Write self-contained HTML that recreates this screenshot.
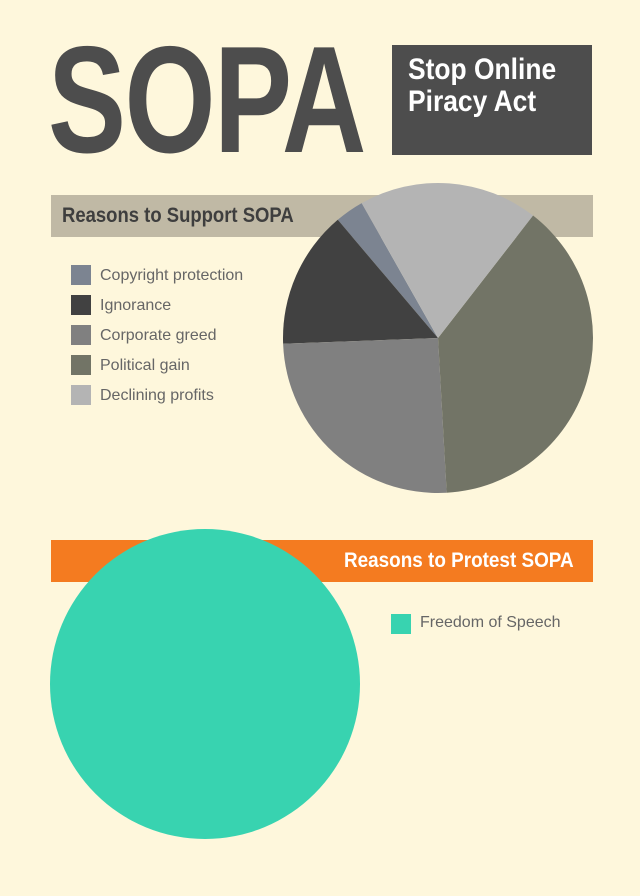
<!DOCTYPE html>
<html><head><meta charset="utf-8"><style>
body{margin:0;background:#fef7dc;}
#root{position:relative;width:640px;height:896px;overflow:hidden;background:#fef7dc;font-family:"Liberation Sans",sans-serif;}
.abs{position:absolute;}
.leg{position:absolute;font-size:16px;color:#666;}
.sw{position:absolute;width:20px;height:20px;}
</style></head><body>
<div id="root">
<div class="abs" style="left:48px;top:20px;font-size:152px;font-weight:bold;color:#4d4d4d;line-height:160px;transform:scaleX(0.77);transform-origin:left top;letter-spacing:-2px;">SOPA</div>
<div class="abs" style="left:392px;top:45px;width:200px;height:110px;background:#4d4d4d;"></div>
<div class="abs" style="left:408px;top:54px;font-size:30px;font-weight:bold;color:#fff;line-height:32px;transform:scaleX(0.88);transform-origin:left top;white-space:nowrap;">Stop Online<br>Piracy Act</div>
<div class="abs" style="left:51px;top:195px;width:542px;height:42px;background:#c0b9a5;"></div>
<div class="abs" style="left:62px;top:204px;font-size:21px;font-weight:bold;color:#3e3e3e;transform:scaleX(0.88);transform-origin:left top;white-space:nowrap;">Reasons to Support SOPA</div>
<div class="abs" style="left:51px;top:540px;width:542px;height:42px;background:#f47b20;"></div>
<svg class="abs" style="left:0;top:0" width="640" height="896">
<g id="pie1"></g>
<circle id="pie2" cx="205" cy="684" r="155" fill="#38d3b0"></circle>
</svg>
<div class="abs" style="left:344px;top:549px;font-size:21px;font-weight:bold;color:#fff;transform:scaleX(0.9);transform-origin:left top;white-space:nowrap;">Reasons to Protest SOPA</div>
<div id="legend1"></div>
<div class="sw" style="left:391px;top:614px;background:#38d3b0;"></div>
<div class="leg" style="left:420px;top:614px;">Freedom of Speech</div>
</div>
<script>
const categories=["Copyright protection","Ignorance","Corporate greed","Political gain","Declining profits"];
const values=[3,14.4,25.3,38.6,18.7];
const colors=["#7c8491","#414141","#808080","#727466","#b4b4b4"];
const cx=438,cy=338,r=155,startDeg=330.5;
const total=values.reduce((a,b)=>a+b,0);
const g=document.getElementById('pie1');
let a=startDeg;
function pt(d){const t=d*Math.PI/180;return [cx+r*Math.sin(t),cy-r*Math.cos(t)];}
values.forEach((v,i)=>{
  const sweep=v/total*360;const a2=a-sweep;
  const p1=pt(a),p2=pt(a2);
  const p=document.createElementNS('http://www.w3.org/2000/svg','path');
  p.setAttribute('d',`M${cx},${cy}L${p1[0]},${p1[1]}A${r},${r} 0 ${sweep>180?1:0} 0 ${p2[0]},${p2[1]}Z`);
  p.setAttribute('fill',colors[i]);
  
  
  g.appendChild(p);a=a2;
});
const L=document.getElementById('legend1');
categories.forEach((c,i)=>{
  const s=document.createElement('div');s.className='sw';
  s.style.left='71px';s.style.top=(265+i*30)+'px';s.style.background=colors[i];
  
  
  L.appendChild(s);
  const t=document.createElement('div');t.className='leg';
  t.style.left='100px';t.style.top=(267+i*30)+'px';t.textContent=c;
  
  
  L.appendChild(t);
});
</script>
</body></html>
